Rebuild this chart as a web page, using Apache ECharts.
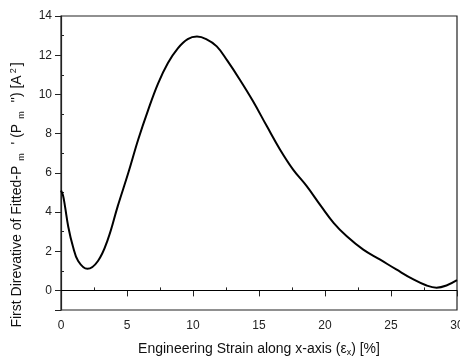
<!DOCTYPE html>
<html style="height: 100%">
<head>
<meta charset="utf-8">
</head>
<body style="height: 100%; margin: 0; background: #fff">
	<div id="container" style="width: 460px; height: 358px"></div>
	<script type="text/javascript" src="https://cdn.jsdelivr.net/npm/echarts@6/dist/echarts.min.js"></script>
	<script type="text/javascript">
		// strain [%] and first derivative of the fitted curve
		var strain = [0, 0.15, 0.3, 0.55, 0.9, 1.3, 2.0, 2.8, 3.55, 4.3, 5.1, 5.85, 6.6, 7.35, 8.1, 8.85, 9.6, 10.3, 11.0, 11.8, 12.6, 13.55, 14.55, 15.6, 16.6, 17.6, 18.6, 19.7, 20.65, 21.65, 22.9, 24.15, 25.4, 26.7, 27.7, 28.45, 29.2, 30];
		var deriv = [5.1, 4.85, 4.3, 3.25, 2.25, 1.5, 1.1, 1.5, 2.6, 4.3, 6.0, 7.7, 9.2, 10.55, 11.6, 12.35, 12.82, 12.95, 12.82, 12.45, 11.72, 10.75, 9.65, 8.37, 7.18, 6.15, 5.33, 4.3, 3.45, 2.76, 2.08, 1.58, 1.07, 0.56, 0.25, 0.14, 0.25, 0.52];
		var xMajor = [0, 5, 10, 15, 20, 25, 30];
		var xMinor = [2.5, 7.5, 12.5, 17.5, 22.5, 27.5];
		var yLabels = [0, 2, 4, 6, 8, 10, 12, 14];
		var yMajor = [-1, 0, 2, 4, 6, 8, 10, 12, 14];
		var yMinor = [1, 3, 5, 7, 9, 11, 13];

		var dom = document.getElementById("container");
		var myChart = echarts.init(dom);
		var pts = [];
		for (var i = 0; i < strain.length; i++) {
			pts.push([strain[i], deriv[i]]);
		}
		var font = 'Liberation Sans, Arial, sans-serif';
		var lineCol = '#222';
		var option = {
			animation: false,
			backgroundColor: '#fff',
			grid: {
				left: 61, right: 3, top: 16, bottom: 48,
				outerBoundsMode: 'none',
				show: true, borderColor: lineCol, borderWidth: 1.2
			},
			xAxis: [{
				type: 'value', min: 0, max: 30, position: 'bottom',
				name: 'Engineering Strain along x-axis (ε{sub|x}) [%]',
				nameLocation: 'middle', nameGap: 31,
				nameTextStyle: {
					fontFamily: font, fontSize: 14, color: '#111',
					rich: { sub: { fontFamily: font, fontSize: 9, verticalAlign: 'bottom', padding: [7, 0, 0, 0] } }
				},
				splitLine: { show: false },
				axisLine: { show: true, lineStyle: { color: lineCol, width: 1.2 } },
				axisTick: { show: true, inside: false, length: 6, customValues: xMajor, lineStyle: { color: lineCol } },
				axisLabel: { customValues: xMajor, margin: 10, fontFamily: font, fontSize: 12, color: '#222' }
			}, {
				type: 'value', min: 0, max: 30, position: 'bottom',
				splitLine: { show: false },
				axisLine: { show: false },
				axisTick: { show: true, inside: true, length: 3, customValues: xMinor, lineStyle: { color: lineCol } },
				axisLabel: { show: false }
			}],
			yAxis: [{
				type: 'value', min: -1, max: 14, position: 'left',
				name: 'First Direvative of Fitted-P{sub|m} \' (P{sub|m} \'\') [A{sup|2}]',
				nameLocation: 'middle', nameGap: 35, nameRotate: 90,
				nameTextStyle: {
					fontFamily: font, fontSize: 14, color: '#111',
					padding: [0, 64, 0, 0],
					rich: {
						sub: { fontFamily: font, fontSize: 9, verticalAlign: 'bottom', padding: [8, 5, 0, 5] },
						sup: { fontFamily: font, fontSize: 9, verticalAlign: 'top', padding: [0, 2, 6, 2] }
					}
				},
				splitLine: { show: false },
				axisLine: { show: true, lineStyle: { color: lineCol, width: 1.2 } },
				axisTick: { show: true, inside: false, length: 6, customValues: yMajor, lineStyle: { color: lineCol } },
				axisLabel: { customValues: yLabels, margin: 9, fontFamily: font, fontSize: 12, color: '#222' }
			}, {
				type: 'value', min: -1, max: 14, position: 'left',
				splitLine: { show: false },
				axisLine: { show: false },
				axisTick: { show: true, inside: true, length: 3, customValues: yMinor, lineStyle: { color: lineCol } },
				axisLabel: { show: false }
			}],
			series: [{
				type: 'line',
				data: pts,
				smooth: 0.4,
				showSymbol: false,
				lineStyle: { color: '#000', width: 2 },
				markLine: {
					silent: true,
					symbol: 'none',
					label: { show: false },
					lineStyle: { color: '#000', width: 1, type: 'solid' },
					data: [{ yAxis: 0 }]
				}
			}]
		};
		myChart.setOption(option);
	</script>
</body>
</html>
